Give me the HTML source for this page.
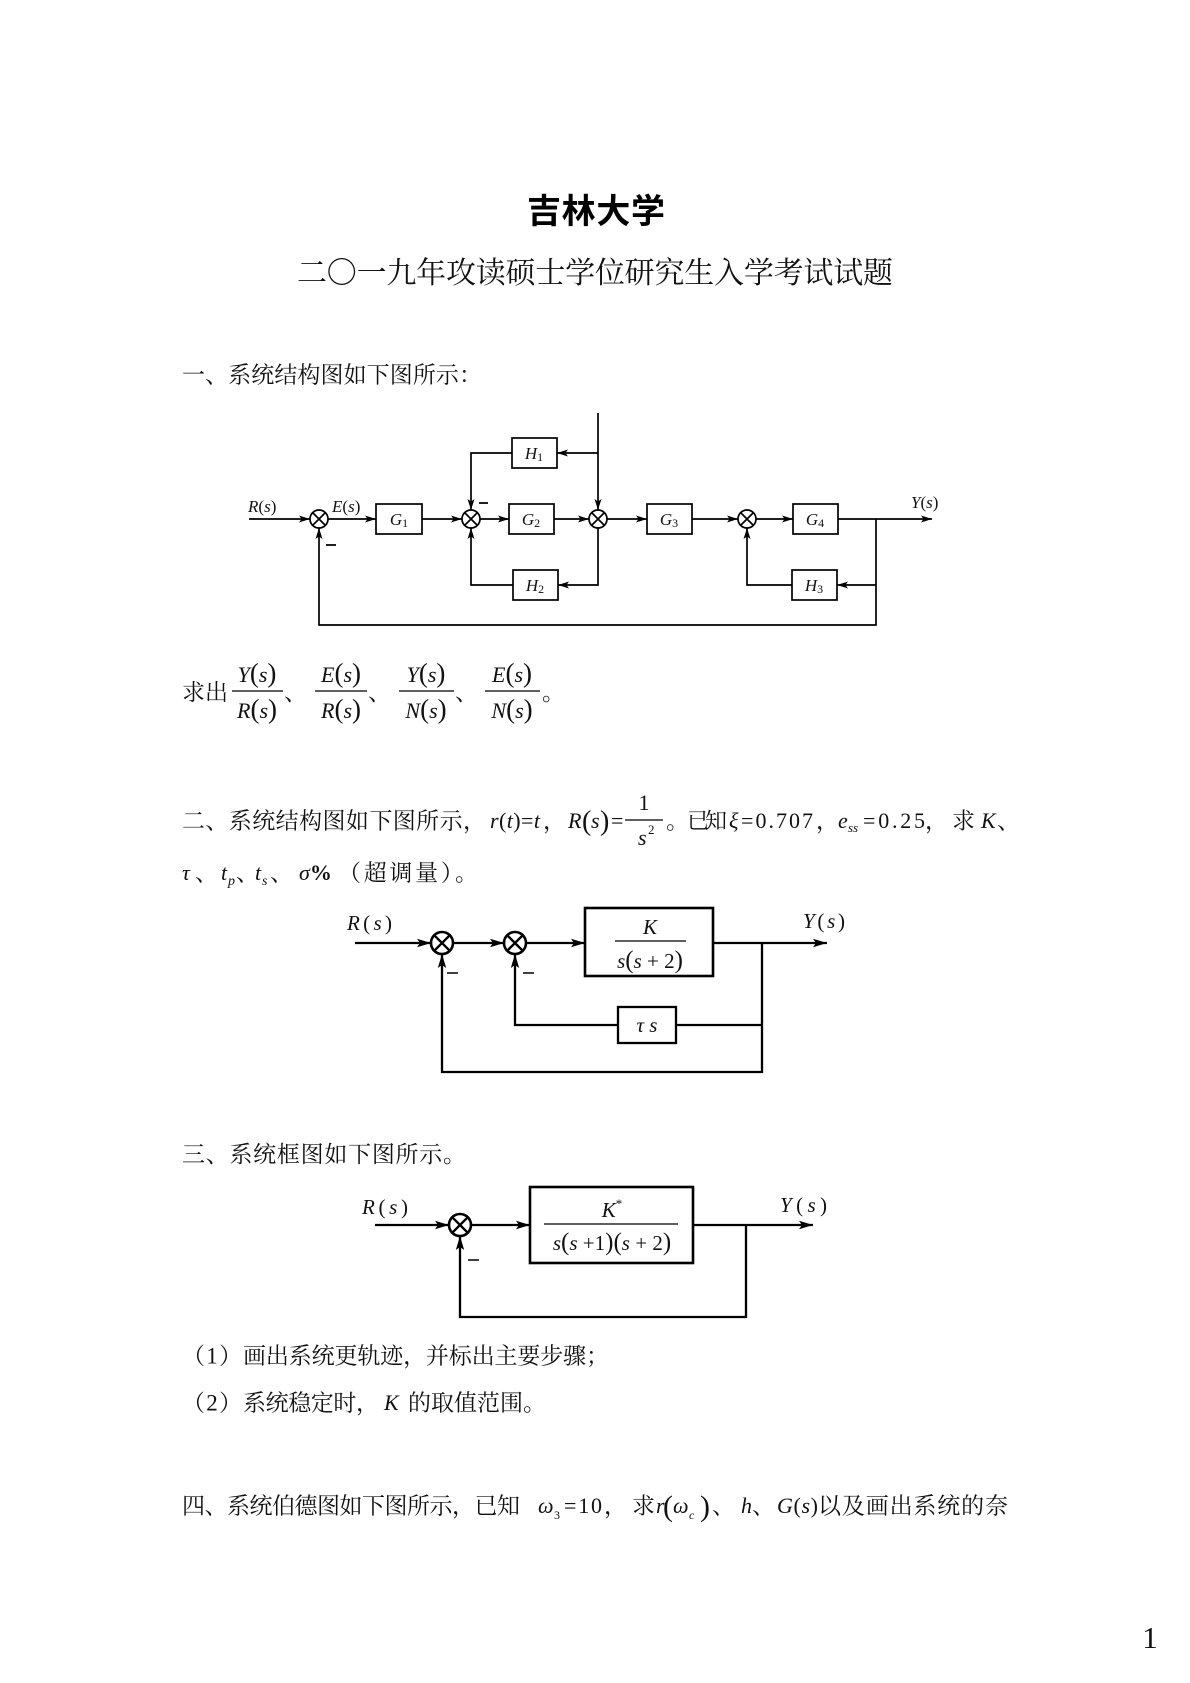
<!DOCTYPE html>
<html><head><meta charset="utf-8"><style>
html,body{margin:0;padding:0;background:#fff;}
svg{display:block;}
.cj{font-family:"Liberation Serif","Noto Serif CJK SC",serif;fill:#111;}
.m{font-family:"Liberation Serif",serif;fill:#111;}
.i{font-style:italic;}
</style></head><body>
<svg width="1190" height="1683" viewBox="0 0 1190 1683" xmlns="http://www.w3.org/2000/svg">
<defs>
<marker id="a" markerWidth="12" markerHeight="8" refX="11" refY="4" orient="auto" markerUnits="userSpaceOnUse"><path d="M0,0.5 L11,4 L0,7.5 L2.5,4 Z" fill="#000"/></marker>
<marker id="b" markerWidth="15" markerHeight="10" refX="14" refY="5" orient="auto" markerUnits="userSpaceOnUse"><path d="M0,0.8 L14,5 L0,9.2 L3,5 Z" fill="#000"/></marker>
</defs>
<rect width="1190" height="1683" fill="#fff"/>

<!-- Title -->
<text x="527" y="223" font-family="'Noto Sans CJK SC',sans-serif" font-weight="bold" font-size="34" textLength="138" lengthAdjust="spacing" fill="#000">吉林大学</text>
<text x="297" y="283" class="cj" font-size="30" textLength="596" lengthAdjust="spacing">二〇一九年攻读硕士学位研究生入学考试试题</text>

<!-- Section 1 -->
<text x="182" y="382.5" class="cj" font-size="23" textLength="300" lengthAdjust="spacing">一、系统结构图如下图所示：</text>

<!-- Diagram 1 -->
<g stroke="#000" stroke-width="1.7" fill="none">
<path d="M249,519 H310" marker-end="url(#a)"/>
<path d="M328,519 H376" marker-end="url(#a)"/>
<path d="M422,519 H462" marker-end="url(#a)"/>
<path d="M480,519 H509" marker-end="url(#a)"/>
<path d="M554,519 H589" marker-end="url(#a)"/>
<path d="M598,413 V510" marker-end="url(#a)"/>
<path d="M598,453 H557" marker-end="url(#a)"/>
<path d="M512,453 H471 V510" marker-end="url(#a)"/>
<path d="M598,528 V585 H558" marker-end="url(#a)"/>
<path d="M513,585 H471 V528" marker-end="url(#a)"/>
<path d="M607,519 H647" marker-end="url(#a)"/>
<path d="M692,519 H738" marker-end="url(#a)"/>
<path d="M756,519 H793" marker-end="url(#a)"/>
<path d="M838,519 H932" marker-end="url(#a)"/>
<path d="M876,519 V625 H319 V528" marker-end="url(#a)"/>
<path d="M876,585 H837" marker-end="url(#a)"/>
<path d="M792,585 H747 V528" marker-end="url(#a)"/>
<rect x="376" y="504" width="46" height="30" fill="#fff"/>
<rect x="509" y="504" width="45" height="30" fill="#fff"/>
<rect x="647" y="504" width="45" height="30" fill="#fff"/>
<rect x="793" y="504" width="45" height="30" fill="#fff"/>
<rect x="512" y="438" width="45" height="30" fill="#fff"/>
<rect x="513" y="570" width="45" height="30" fill="#fff"/>
<rect x="792" y="570" width="45" height="30" fill="#fff"/>
<circle cx="319" cy="519" r="9" fill="#fff"/>
<circle cx="471" cy="519" r="9" fill="#fff"/>
<circle cx="598" cy="519" r="9" fill="#fff"/>
<circle cx="747" cy="519" r="9" fill="#fff"/>
<path d="M312.6,512.6 L325.4,525.4 M325.4,512.6 L312.6,525.4"/>
<path d="M464.6,512.6 L477.4,525.4 M477.4,512.6 L464.6,525.4"/>
<path d="M591.6,512.6 L604.4,525.4 M604.4,512.6 L591.6,525.4"/>
<path d="M740.6,512.6 L753.4,525.4 M753.4,512.6 L740.6,525.4"/>
<path d="M479,503 H488 M326,545 H336"/>
</g>
<g class="m" font-size="17">
<text x="248" y="512"><tspan class="i">R</tspan>(<tspan class="i">s</tspan>)</text>
<text x="332" y="512"><tspan class="i">E</tspan>(<tspan class="i">s</tspan>)</text>
<text x="911" y="508"><tspan class="i">Y</tspan>(<tspan class="i">s</tspan>)</text>
<text x="399" y="525" text-anchor="middle"><tspan class="i">G</tspan><tspan font-size="12" dy="2">1</tspan></text>
<text x="531" y="525" text-anchor="middle"><tspan class="i">G</tspan><tspan font-size="12" dy="2">2</tspan></text>
<text x="669" y="525" text-anchor="middle"><tspan class="i">G</tspan><tspan font-size="12" dy="2">3</tspan></text>
<text x="815" y="525" text-anchor="middle"><tspan class="i">G</tspan><tspan font-size="12" dy="2">4</tspan></text>
<text x="534" y="459" text-anchor="middle"><tspan class="i">H</tspan><tspan font-size="12" dy="2">1</tspan></text>
<text x="535" y="591" text-anchor="middle"><tspan class="i">H</tspan><tspan font-size="12" dy="2">2</tspan></text>
<text x="814" y="591" text-anchor="middle"><tspan class="i">H</tspan><tspan font-size="12" dy="2">3</tspan></text>
</g>

<!-- 求出 fractions -->
<text x="182" y="700" class="cj" font-size="23" textLength="46" lengthAdjust="spacing">求出</text>
<g stroke="#000" stroke-width="1.3">
<path d="M232,691 H283 M315,691 H367 M399,691 H454 M485,691 H540"/>
</g>
<g class="m" font-size="22" text-anchor="middle">
<text x="257" y="682"><tspan class="i">Y</tspan><tspan font-size="27">(</tspan><tspan class="i">s</tspan><tspan font-size="27">)</tspan></text>
<text x="257" y="718"><tspan class="i">R</tspan><tspan font-size="27">(</tspan><tspan class="i">s</tspan><tspan font-size="27">)</tspan></text>
<text x="341" y="682"><tspan class="i">E</tspan><tspan font-size="27">(</tspan><tspan class="i">s</tspan><tspan font-size="27">)</tspan></text>
<text x="341" y="718"><tspan class="i">R</tspan><tspan font-size="27">(</tspan><tspan class="i">s</tspan><tspan font-size="27">)</tspan></text>
<text x="426" y="682"><tspan class="i">Y</tspan><tspan font-size="27">(</tspan><tspan class="i">s</tspan><tspan font-size="27">)</tspan></text>
<text x="426" y="718"><tspan class="i">N</tspan><tspan font-size="27">(</tspan><tspan class="i">s</tspan><tspan font-size="27">)</tspan></text>
<text x="512" y="682"><tspan class="i">E</tspan><tspan font-size="27">(</tspan><tspan class="i">s</tspan><tspan font-size="27">)</tspan></text>
<text x="512" y="718"><tspan class="i">N</tspan><tspan font-size="27">(</tspan><tspan class="i">s</tspan><tspan font-size="27">)</tspan></text>
</g>
<g class="cj" font-size="23">
<text x="284" y="700">、</text>
<text x="368" y="700">、</text>
<text x="455" y="700">、</text>
<text x="542" y="700">。</text>
</g>

<!-- Section 2 -->
<text x="182" y="828.5" class="cj" font-size="23" textLength="304" lengthAdjust="spacing">二、系统结构图如下图所示，</text>
<text x="490" y="828" class="m" font-size="22" textLength="50" lengthAdjust="spacing"><tspan class="i">r</tspan>(<tspan class="i">t</tspan>)=<tspan class="i">t</tspan></text>
<text x="543" y="828.5" class="cj" font-size="23">，</text>
<g class="m" font-size="22">
<text x="568" y="828" class="i">R</text>
<text x="582" y="830" font-size="28">(</text>
<text x="591" y="828" class="i">s</text>
<text x="600" y="830" font-size="28">)</text>
<text x="611" y="828">=</text>
<text x="644" y="810" text-anchor="middle">1</text>
<text x="638" y="845" class="i">s</text>
<text x="648" y="834" font-size="13">2</text>
</g>
<path d="M625,820 H663" stroke="#000" stroke-width="1.3"/>
<text x="666" y="828.5" class="cj" font-size="23">。</text>
<text x="687" y="828.5" class="cj" font-size="22" textLength="40" lengthAdjust="spacing">已知</text>
<text x="729" y="828" class="m i" font-size="22">ξ</text>
<text x="741" y="828" class="m" font-size="22" textLength="72" lengthAdjust="spacing">=0.707</text>
<text x="816" y="828.5" class="cj" font-size="23">，</text>
<text x="838" y="828" class="m i" font-size="22">e</text>
<text x="848" y="832" class="m i" font-size="13">ss</text>
<text x="863" y="828" class="m" font-size="22" textLength="62" lengthAdjust="spacing">=0.25</text>
<text x="925" y="828.5" class="cj" font-size="23">，</text>
<text x="952" y="828.5" class="cj" font-size="23">求</text>
<text x="981" y="828" class="m i" font-size="22">K</text>
<text x="997" y="828.5" class="cj" font-size="23">、</text>

<text x="182" y="880" class="m i" font-size="22">τ</text>
<text x="195" y="880.5" class="cj" font-size="23">、</text>
<text x="221" y="880" class="m i" font-size="22">t</text>
<text x="228" y="885" class="m i" font-size="14">p</text>
<text x="236" y="880.5" class="cj" font-size="23">、</text>
<text x="255" y="880" class="m i" font-size="22">t</text>
<text x="262" y="885" class="m i" font-size="14">s</text>
<text x="270" y="880.5" class="cj" font-size="23">、</text>
<text x="299" y="880" class="m" font-size="22"><tspan class="i">σ</tspan><tspan font-weight="bold">%</tspan></text>
<text x="338" y="880.5" class="cj" font-size="23" textLength="140" lengthAdjust="spacing">（超调量）。</text>

<!-- Diagram 2 -->
<g stroke="#000" stroke-width="2.3" fill="none">
<path d="M355,943 H431" marker-end="url(#b)"/>
<path d="M453,943 H504" marker-end="url(#b)"/>
<path d="M526,943 H585" marker-end="url(#b)"/>
<path d="M713,943 H827" marker-end="url(#b)"/>
<path d="M762,943 V1072 H442 V954" marker-end="url(#b)"/>
<path d="M762,1025 H676"/>
<path d="M618,1025 H515 V954" marker-end="url(#b)"/>
<rect x="585" y="908" width="128" height="68" fill="#fff" stroke-width="2.6"/>
<rect x="618" y="1007" width="58" height="36" fill="#fff"/>
<circle cx="442" cy="943" r="11" fill="#fff" stroke-width="2.6"/>
<circle cx="515" cy="943" r="11" fill="#fff" stroke-width="2.6"/>
<path d="M434.2,935.2 L449.8,950.8 M449.8,935.2 L434.2,950.8" stroke-width="2.4"/>
<path d="M507.2,935.2 L522.8,950.8 M522.8,935.2 L507.2,950.8" stroke-width="2.4"/>
<path d="M447,973 H458 M523,973 H534" stroke-width="1.5"/>
<path d="M615,941 H686" stroke-width="1.3"/>
</g>
<g class="m" font-size="21">
<text x="347" y="930" textLength="45" lengthAdjust="spacing"><tspan class="i">R</tspan>(<tspan class="i">s</tspan>)</text>
<text x="803" y="928" textLength="42" lengthAdjust="spacing"><tspan class="i">Y</tspan>(<tspan class="i">s</tspan>)</text>
<text x="650" y="934" text-anchor="middle" class="i">K</text>
<text x="650" y="968" text-anchor="middle"><tspan class="i">s</tspan><tspan font-size="25">(</tspan><tspan class="i">s</tspan> + 2<tspan font-size="25">)</tspan></text>
<text x="647" y="1032" text-anchor="middle" class="i">τ s</text>
</g>

<!-- Section 3 -->
<text x="182" y="1162" class="cj" font-size="23" textLength="284" lengthAdjust="spacing">三、系统框图如下图所示。</text>

<!-- Diagram 3 -->
<g stroke="#000" stroke-width="2.3" fill="none">
<path d="M375,1225 H449" marker-end="url(#b)"/>
<path d="M471,1225 H530" marker-end="url(#b)"/>
<path d="M693,1225 H813" marker-end="url(#b)"/>
<path d="M746,1225 V1317 H460 V1236" marker-end="url(#b)"/>
<rect x="530" y="1187" width="163" height="76" fill="#fff" stroke-width="2.6"/>
<circle cx="460" cy="1225" r="11" fill="#fff" stroke-width="2.6"/>
<path d="M452.2,1217.2 L467.8,1232.8 M467.8,1217.2 L452.2,1232.8" stroke-width="2.4"/>
<path d="M468,1260 H479" stroke-width="1.5"/>
<path d="M544,1224 H678" stroke-width="1.3"/>
</g>
<g class="m" font-size="21">
<text x="362" y="1214" textLength="46" lengthAdjust="spacing"><tspan class="i">R</tspan>(<tspan class="i">s</tspan>)</text>
<text x="780" y="1212" textLength="47" lengthAdjust="spacing"><tspan class="i">Y</tspan>(<tspan class="i">s</tspan>)</text>
<text x="612" y="1217" text-anchor="middle"><tspan class="i">K</tspan><tspan font-size="13" dy="-9">*</tspan></text>
<text x="612" y="1250" text-anchor="middle"><tspan class="i">s</tspan><tspan font-size="25">(</tspan><tspan class="i">s</tspan> +1<tspan font-size="25">)(</tspan><tspan class="i">s</tspan> + 2<tspan font-size="25">)</tspan></text>
</g>

<!-- (1) (2) -->
<text x="182" y="1363.5" class="cj" font-size="23" textLength="60" lengthAdjust="spacing">（1）</text>
<text x="243" y="1363.5" class="cj" font-size="23" textLength="366" lengthAdjust="spacing">画出系统更轨迹，并标出主要步骤；</text>
<text x="182" y="1410.5" class="cj" font-size="23" textLength="60" lengthAdjust="spacing">（2）</text>
<text x="243" y="1410.5" class="cj" font-size="23" textLength="136" lengthAdjust="spacing">系统稳定时，</text>
<text x="384" y="1410" class="m i" font-size="22">K</text>
<text x="408" y="1410.5" class="cj" font-size="23" textLength="138" lengthAdjust="spacing">的取值范围。</text>

<!-- Section 4 -->
<text x="182" y="1513.5" class="cj" font-size="23" textLength="338" lengthAdjust="spacing">四、系统伯德图如下图所示，已知</text>
<text x="538" y="1513" class="m i" font-size="22">ω</text>
<text x="554" y="1519" class="m" font-size="12">3</text>
<text x="564" y="1513" class="m" font-size="22" textLength="38" lengthAdjust="spacing">=10</text>
<text x="604" y="1513.5" class="cj" font-size="23">，</text>
<text x="632" y="1513.5" class="cj" font-size="23">求</text>
<text x="656" y="1513" class="m i" font-size="22">r</text>
<text x="663" y="1516" class="m" font-size="30">(</text>
<text x="673" y="1513" class="m i" font-size="22">ω</text>
<text x="689" y="1519" class="m i" font-size="12">c</text>
<text x="700" y="1516" class="m" font-size="30">)</text>
<text x="712" y="1513.5" class="cj" font-size="23">、</text>
<text x="741" y="1513" class="m i" font-size="22">h</text>
<text x="752" y="1513.5" class="cj" font-size="23">、</text>
<text x="777" y="1513" class="m" font-size="22" textLength="41" lengthAdjust="spacing"><tspan class="i">G</tspan>(<tspan class="i">s</tspan>)</text>
<text x="818" y="1513.5" class="cj" font-size="23" textLength="190" lengthAdjust="spacing">以及画出系统的奈</text>

<!-- page number -->
<text x="1150" y="1648" class="m" font-size="31" text-anchor="middle">1</text>
</svg>
</body></html>
